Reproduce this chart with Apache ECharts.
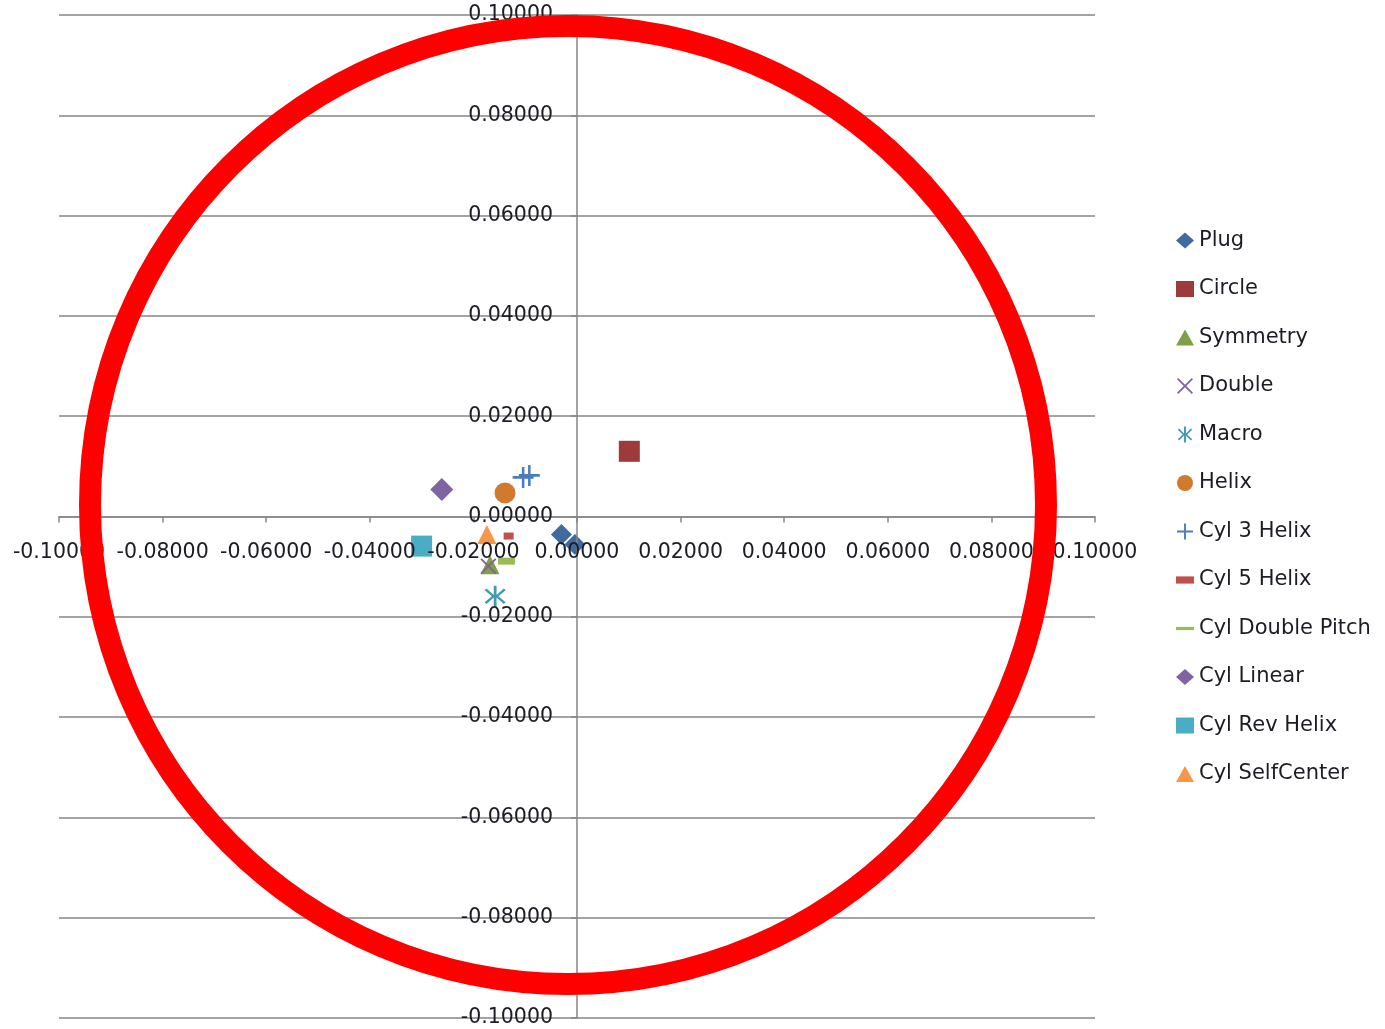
<!DOCTYPE html>
<html>
<head>
<meta charset="utf-8">
<script src="https://cdn.jsdelivr.net/npm/echarts@6/dist/echarts.min.js"></script>
<style>
html,body{margin:0;padding:0;background:#fff;}
#chart{width:1385px;height:1029px;}
</style>
</head>
<body>
<div id="chart"></div>
<script>
// ---- data ----
const seriesNames = ["Plug","Circle","Symmetry","Double","Macro","Helix","Cyl 3 Helix","Cyl 5 Helix","Cyl Double Pitch","Cyl Linear","Cyl Rev Helix","Cyl SelfCenter"];
const plugX = [-0.0030, -0.0004];       const plugY = [-0.0036, -0.0056];
const circleX = [0.0101];               const circleY = [0.0130];
const symmetryX = [-0.0168];            const symmetryY = [-0.0096];
const doubleX = [-0.0171];              const doubleY = [-0.0099];
const macroX = [-0.0158];               const macroY = [-0.0159];
const helixX = [-0.0139];               const helixY = [0.0047];
const cyl3HelixX = [-0.0104, -0.0092];  const cyl3HelixY = [0.0078, 0.0082];
const cyl5HelixX = [-0.0132];           const cyl5HelixY = [-0.0039];
const cylDoublePitchX = [-0.0136];      const cylDoublePitchY = [-0.0089];
const cylLinearX = [-0.0261];           const cylLinearY = [0.0054];
const cylRevHelixX = [-0.0300];         const cylRevHelixY = [-0.0059];
const cylSelfCenterX = [-0.0174];       const cylSelfCenterY = [-0.0036];
const axisMin = -0.1, axisMax = 0.1, axisStep = 0.02;

// ---- styling ----
const PLUS = 'path://M0,44H100V56H0ZM44,0H56V100H44Z';
const XMARK = 'path://M8,0L50,42L92,0L100,8L58,50L100,92L92,100L50,58L8,100L0,92L42,50L0,8Z';
const STAR = 'path://M44,0H56V44L87,13L95,21L64,50L95,79L87,87L56,56V100H44V56L13,87L5,79L36,50L5,21L13,13L44,44Z';
const DASH = 'path://M0,0H100V18H0Z';
const SMALLDASH = 'path://M0,0H100V40H0Z';

const pairs = [
  [plugX, plugY], [circleX, circleY], [symmetryX, symmetryY], [doubleX, doubleY],
  [macroX, macroY], [helixX, helixY], [cyl3HelixX, cyl3HelixY], [cyl5HelixX, cyl5HelixY],
  [cylDoublePitchX, cylDoublePitchY], [cylLinearX, cylLinearY], [cylRevHelixX, cylRevHelixY],
  [cylSelfCenterX, cylSelfCenterY]
];
const styles = [
  {color:'#3f6ba1', symbol:'diamond', size:21, icon:'diamond'},
  {color:'#9c3b3a', symbol:'rect', size:21, icon:'rect'},
  {color:'#7fa046', symbol:'triangle', size:19, icon:'triangle'},
  {color:'#8064a2', symbol:XMARK, size:16, icon:XMARK},
  {color:'#3e9ab0', symbol:STAR, size:21, icon:STAR},
  {color:'#d07a30', symbol:'circle', size:21, icon:'circle'},
  {color:'#4a7ebb', symbol:PLUS, size:21, icon:PLUS},
  {color:'#c0504d', symbol:'rect', size:[10,7], icon:SMALLDASH},
  {color:'#9bbb59', symbol:'rect', size:[17,7], icon:DASH},
  {color:'#8064a2', symbol:'diamond', size:23, icon:'diamond'},
  {color:'#4bacc6', symbol:'rect', size:21, icon:'rect'},
  {color:'#f79646', symbol:'triangle', size:19, icon:'triangle'}
];

const series = seriesNames.map((name, i) => ({
  name: name,
  type: 'scatter',
  data: pairs[i][0].map((x, j) => [x, pairs[i][1][j]]),
  symbol: styles[i].symbol,
  symbolSize: styles[i].size,
  itemStyle: {color: styles[i].color, opacity: 1},
  z: 2
}));

const labelFont = {fontFamily: 'DejaVu Sans', fontSize: 20.5, color: '#1c1c24'};
const gridColor = '#868686';
const GL = 59, GR = 290, GT = 15, GB = 11, W = 1385, H = 1029;
const gridW = W - GL - GR, gridH = H - GT - GB;

const chart = echarts.init(document.getElementById('chart'), null, {renderer: 'canvas'});
chart.setOption({
  animation: false,
  backgroundColor: '#fff',
  grid: {left: GL, right: GR, top: GT, bottom: GB, containLabel: false, outerBoundsMode: 'none'},
  xAxis: {
    type: 'value', min: axisMin, max: axisMax, interval: axisStep, z: 5,
    position: 'bottom', offset: -gridH / 2,
    axisLine: {show: true, onZero: false, lineStyle: {color: gridColor, width: 1.5}},
    axisTick: {show: true, length: 6, lineStyle: {color: gridColor, width: 1.5}},
    splitLine: {show: false},
    axisLabel: Object.assign({margin: 26, formatter: v => v.toFixed(5)}, labelFont)
  },
  yAxis: {
    type: 'value', min: axisMin, max: axisMax, interval: axisStep, z: 5,
    position: 'left', offset: -gridW / 2,
    axisLine: {show: true, onZero: false, lineStyle: {color: gridColor, width: 1.5}},
    axisTick: {show: true, length: 6, lineStyle: {color: gridColor, width: 1.5}},
    splitLine: {show: true, lineStyle: {color: gridColor, width: 1.5}},
    axisLabel: Object.assign({margin: 24, formatter: v => v.toFixed(5)}, labelFont)
  },
  legend: {
    orient: 'vertical', left: 1171, top: 225,
    itemWidth: 18, itemHeight: 16, itemGap: 27.5,
    textStyle: {fontFamily: 'DejaVu Sans', fontSize: 21, color: '#1c1c24', lineHeight: 20},
    data: seriesNames.map((n, i) => ({name: n, icon: styles[i].icon}))
  },
  graphic: [{
    type: 'ellipse', z: 100,
    shape: {cx: 568, cy: 505, rx: 478, ry: 479},
    style: {fill: 'none', stroke: '#ff0000', lineWidth: 22}
  }],
  series: series
});
</script>
</body>
</html>
